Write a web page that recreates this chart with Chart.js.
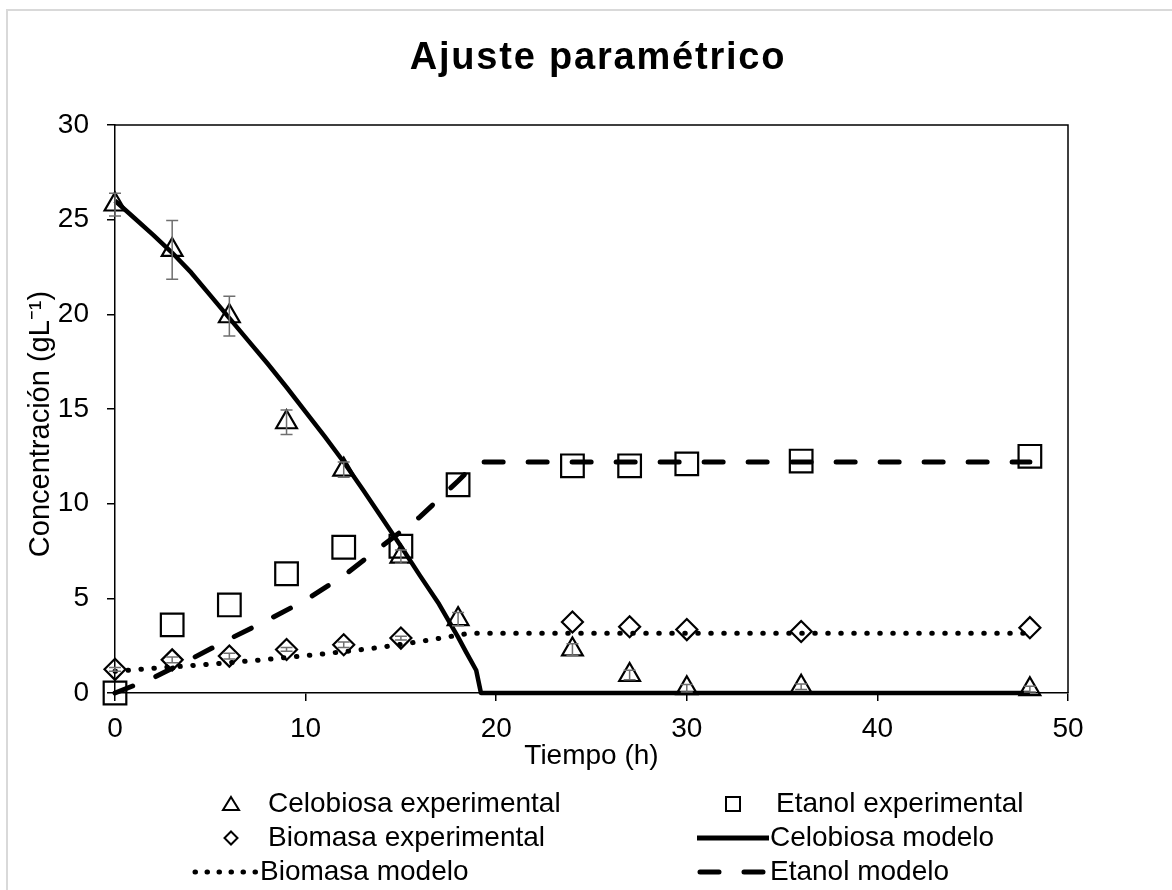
<!DOCTYPE html>
<html>
<head>
<meta charset="utf-8">
<script src="https://cdn.jsdelivr.net/npm/chart.js@4.4.1/dist/chart.umd.min.js"></script>
<style>
  html, body { margin: 0; padding: 0; background: #fff; }
  canvas { display: block; }
</style>
</head>
<body>
<canvas id="ajuste" width="1172" height="890"></canvas>
<script>
// Experimental sampling times (h)
const tiempo = [0, 3, 6, 9, 12, 15, 18, 24, 27, 30, 36, 48];

// Experimental data (g/L)
const celobiosaExp = [25.8, 23.4, 19.9, 14.3, 11.8, 7.2, 3.9, 2.3, 0.95, 0.25, 0.33, 0.2];
const celobiosaErr = [0.6, 1.55, 1.05, 0.65, 0.4, 0.35, 0.35, 0.3, 0.25, 0.2, 0.15, 0.15];
const etanolExp = [0, 3.6, 4.65, 6.3, 7.7, 7.75, 11.0, 12.0, 12.0, 12.1, 12.25, 12.5];
const biomasaExp = [1.25, 1.75, 1.95, 2.3, 2.55, 2.9, null, 3.75, 3.5, 3.35, 3.25, 3.45];
const biomasaErr = [0.1, 0.15, 0.15, 0.1, 0.15, 0.1, 0, 0, 0, 0, 0, 0];

// Model curves
const celobiosaModT = [0, 1, 2, 3, 4, 5, 6, 7, 8, 9, 10, 11, 12, 13, 14, 15, 16, 17, 18, 18.4, 18.95, 19.2, 48];
const celobiosaModC = [26.0, 25.1, 24.2, 23.25, 22.2, 21.0, 19.8, 18.6, 17.4, 16.15, 14.85, 13.55, 12.2, 10.75, 9.25, 7.75, 6.2, 4.7, 2.95, 2.2, 1.2, 0, 0];
const etanolModT = [0, 2, 4, 6, 8, 10, 12, 14, 16, 18, 19, 48];
const etanolModC = [0, 0.8, 1.8, 2.85, 3.85, 4.9, 6.2, 7.75, 9.3, 11.2, 12.2, 12.2];
const biomasaModT = [0, 2, 4, 6, 8, 10, 12, 14, 16, 18, 18.6, 48];
const biomasaModC = [1.15, 1.3, 1.45, 1.6, 1.78, 1.97, 2.18, 2.42, 2.72, 3.05, 3.16, 3.16];

// Axis ticks
const xTicks = [0, 10, 20, 30, 40, 50];
const yTicks = [0, 5, 10, 15, 20, 25, 30];

const FONT = "'Liberation Sans', Arial, sans-serif";

const pts = (xs, ys) => xs.map((x, i) => ({ x: x, y: ys[i] }));

// white background + light grey frame
const framePlugin = {
    id: 'frame',
    beforeDraw(chart) {
        const ctx = chart.ctx;
        ctx.save();
        ctx.fillStyle = '#fff';
        ctx.fillRect(0, 0, chart.width, chart.height);
        ctx.strokeStyle = '#d9d9d9';
        ctx.lineWidth = 2;
        ctx.strokeRect(7, 10, chart.width + 10, chart.height + 10);
        ctx.restore();
    }
};

// box around the plot area
const boxPlugin = {
    id: 'box',
    afterDraw(chart) {
        const a = chart.chartArea;
        const ctx = chart.ctx;
        ctx.save();
        ctx.strokeStyle = '#000';
        ctx.lineWidth = 1.5;
        ctx.beginPath();
        ctx.moveTo(a.left, a.top);
        ctx.lineTo(a.right, a.top);
        ctx.lineTo(a.right, a.bottom);
        ctx.stroke();
        ctx.restore();
    }
};

// vertical error bars for the experimental datasets
const errorPlugin = {
    id: 'errorBars',
    afterDatasetsDraw(chart) {
        const ctx = chart.ctx;
        const xs = chart.scales.x, ys = chart.scales.y;
        const sets = [[celobiosaExp, celobiosaErr], [biomasaExp, biomasaErr]];
        ctx.save();
        ctx.strokeStyle = '#6f6f6f';
        ctx.lineWidth = 1.5;
        sets.forEach(([vals, errs]) => {
            vals.forEach((v, i) => {
                if (v === null || !errs[i]) return;
                const px = xs.getPixelForValue(tiempo[i]);
                const top = ys.getPixelForValue(v + errs[i]);
                const bot = ys.getPixelForValue(Math.max(0, v - errs[i]));
                ctx.beginPath();
                ctx.moveTo(px, top); ctx.lineTo(px, bot);
                ctx.moveTo(px - 6, top); ctx.lineTo(px + 6, top);
                ctx.moveTo(px - 6, bot); ctx.lineTo(px + 6, bot);
                ctx.stroke();
            });
        });
        ctx.restore();
    }
};

// chart title and y axis title
const titlePlugin = {
    id: 'titulos',
    afterDraw(chart) {
        const ctx = chart.ctx;
        ctx.save();
        ctx.font = 'bold 38px ' + FONT;
        if ('letterSpacing' in ctx) ctx.letterSpacing = '1.8px';
        ctx.fillStyle = '#000';
        ctx.textAlign = 'center';
        ctx.textBaseline = 'alphabetic';
        ctx.fillText('Ajuste paramétrico', 598, 69);
        if ('letterSpacing' in ctx) ctx.letterSpacing = '0px';

        ctx.translate(41, 424);
        ctx.rotate(-Math.PI / 2);
        ctx.font = '29px ' + FONT;
        ctx.textBaseline = 'middle';
        ctx.fillText('Concentración (gL⁻¹)', 0, 0);
        ctx.restore();
    }
};

// two-column legend below the axis
const legendPlugin = {
    id: 'leyenda',
    afterDraw(chart) {
        const ctx = chart.ctx;
        const rows = [804, 838, 872];
        ctx.save();
        ctx.fillStyle = '#000';
        ctx.strokeStyle = '#000';
        ctx.font = '28px ' + FONT;
        ctx.textBaseline = 'middle';
        ctx.textAlign = 'left';

        // markers
        ctx.lineWidth = 2;
        let y = rows[0];
        ctx.beginPath();
        ctx.moveTo(231, y - 7); ctx.lineTo(239, y + 6); ctx.lineTo(223, y + 6); ctx.closePath();
        ctx.stroke();
        ctx.strokeRect(726, y - 7, 14, 14);
        y = rows[1];
        ctx.beginPath();
        ctx.moveTo(231, y - 6.5); ctx.lineTo(237.5, y); ctx.lineTo(231, y + 6.5); ctx.lineTo(224.5, y); ctx.closePath();
        ctx.stroke();

        // lines
        ctx.lineCap = 'butt';
        ctx.lineWidth = 5;
        ctx.beginPath();
        ctx.moveTo(697, rows[1]); ctx.lineTo(769, rows[1]);
        ctx.stroke();
        ctx.lineCap = 'round';
        ctx.setLineDash([19, 25]);
        ctx.beginPath();
        ctx.moveTo(700, rows[2]); ctx.lineTo(768, rows[2]);
        ctx.stroke();
        ctx.setLineDash([0.5, 11.5]);
        ctx.beginPath();
        ctx.moveTo(195, rows[2]); ctx.lineTo(258, rows[2]);
        ctx.stroke();
        ctx.setLineDash([]);

        ctx.fillText('Celobiosa experimental', 268, rows[0]);
        ctx.fillText('Etanol experimental', 776, rows[0]);
        ctx.fillText('Biomasa experimental', 268, rows[1]);
        ctx.fillText('Celobiosa modelo', 770, rows[1]);
        ctx.fillText('Biomasa modelo', 260, rows[2]);
        ctx.fillText('Etanol modelo', 770, rows[2]);
        ctx.restore();
    }
};

const ctx = document.getElementById('ajuste').getContext('2d');
const chart = new Chart(ctx, {
    type: 'scatter',
    data: {
        datasets: [
            {
                label: 'Celobiosa modelo',
                data: pts(celobiosaModT, celobiosaModC),
                showLine: true, pointRadius: 0,
                borderColor: '#000', borderWidth: 4.5,
                borderJoinStyle: 'round',
                clip: 6
            },
            {
                label: 'Etanol modelo',
                data: pts(etanolModT, etanolModC),
                showLine: true, pointRadius: 0,
                borderColor: '#000', borderWidth: 5,
                borderDash: [19, 25], borderCapStyle: 'round',
                clip: 6
            },
            {
                label: 'Biomasa modelo',
                data: pts(biomasaModT, biomasaModC),
                showLine: true, pointRadius: 0,
                borderColor: '#000', borderWidth: 5,
                borderDash: [0.5, 12.5], borderCapStyle: 'round',
                clip: 6
            },
            {
                label: 'Celobiosa experimental',
                data: pts(tiempo, celobiosaExp),
                pointStyle: 'triangle', pointRadius: 12,
                borderColor: '#000', borderWidth: 2.2,
                backgroundColor: 'transparent',
                clip: false
            },
            {
                label: 'Etanol experimental',
                data: pts(tiempo, etanolExp),
                pointStyle: 'rect', pointRadius: 16,
                borderColor: '#000', borderWidth: 2.2,
                backgroundColor: 'transparent',
                clip: false
            },
            {
                label: 'Biomasa experimental',
                data: pts(tiempo, biomasaExp),
                pointStyle: 'rectRot', pointRadius: 10.5,
                borderColor: '#000', borderWidth: 2.2,
                backgroundColor: 'transparent',
                clip: false
            }
        ]
    },
    options: {
        responsive: false,
        animation: false,
        layout: { padding: { left: 0, top: 125, right: 104, bottom: 107 } },
        plugins: {
            legend: { display: false },
            title: { display: false },
            tooltip: { enabled: false }
        },
        scales: {
            x: {
                type: 'linear',
                min: 0, max: 50,
                afterBuildTicks: s => { s.ticks = xTicks.map(v => ({ value: v })); },
                afterFit: s => { s.height = 90; },
                ticks: { color: '#000', font: { family: FONT, size: 28 }, padding: 11, maxRotation: 0 },
                grid: { drawOnChartArea: false, drawTicks: true, tickLength: 8, color: '#000', lineWidth: 1.5 },
                border: { display: true, color: '#000', width: 1.5 },
                title: {
                    display: true, text: 'Tiempo (h)', color: '#000',
                    font: { family: FONT, size: 28 }, padding: { top: 0, bottom: 10 }
                }
            },
            y: {
                min: 0, max: 30,
                afterBuildTicks: s => { s.ticks = yTicks.map(v => ({ value: v })); },
                afterFit: s => { s.width = 115; },
                ticks: { color: '#000', font: { family: FONT, size: 28 }, padding: 18 },
                grid: { drawOnChartArea: false, drawTicks: true, tickLength: 8, color: '#000', lineWidth: 1.5 },
                border: { display: true, color: '#000', width: 1.5 }
            }
        }
    },
    plugins: [framePlugin, errorPlugin, boxPlugin, titlePlugin, legendPlugin]
});
</script>
</body>
</html>
